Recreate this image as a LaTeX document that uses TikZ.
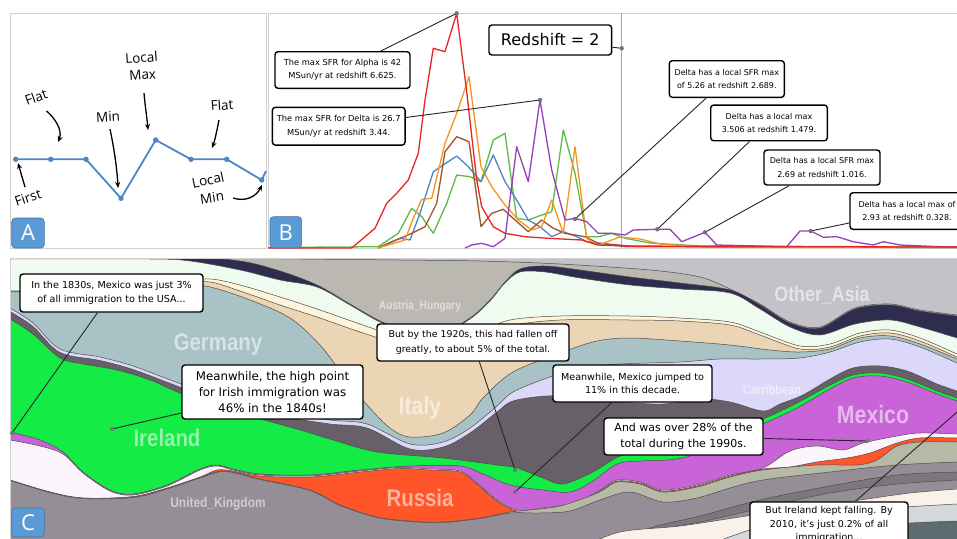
\documentclass[tikz,border=0pt]{standalone}
\usepackage{fontspec}
\setmainfont{DejaVu Sans}
\newfontfamily\handfont{Open Sans}
\newfontfamily\strfont[FakeStretch=0.85]{Liberation Sans}
\usetikzlibrary{arrows.meta}
\definecolor{lineblue}{HTML}{4A86C8}
\definecolor{lblue}{HTML}{5B9BD5}
\definecolor{cred}{HTML}{E8251F}
\definecolor{corange}{HTML}{F7931E}
\definecolor{cbrown}{HTML}{A0522D}
\definecolor{cblue}{HTML}{4F86C6}
\definecolor{cgreen}{HTML}{5DBB46}
\definecolor{cpurple}{HTML}{9440B8}
\definecolor{sOasia}{HTML}{C5C1C9}
\definecolor{sAustria}{HTML}{BBB7B1}
\definecolor{sNavy}{HTML}{2E2C4F}
\definecolor{sMint}{HTML}{EEFBEE}
\definecolor{sCream}{HTML}{FDF4D9}
\definecolor{sTan}{HTML}{EBD5B5}
\definecolor{sGerm}{HTML}{A8C2C5}
\definecolor{sCarib}{HTML}{DCD8F9}
\definecolor{sDark}{HTML}{676068}
\definecolor{sGreen}{HTML}{14EB44}
\definecolor{sPurple}{HTML}{C864D8}
\definecolor{sWhite}{HTML}{FCF4FB}
\definecolor{sRed}{HTML}{FF5528}
\definecolor{sSage}{HTML}{B5B9A6}
\definecolor{sUK}{HTML}{968E96}
\definecolor{sGray}{HTML}{7D767E}
\definecolor{sCream2}{HTML}{FAF1E8}
\definecolor{sLt}{HTML}{D3D8DB}
\definecolor{sSlate}{HTML}{5E6C71}
\newcommand\strlayer[2]{%
  \fill[#1] plot[smooth,tension=0.55] coordinates {#2} -- (965,548) -- (2,548) -- cycle;
  \draw[strline] plot[smooth,tension=0.55] coordinates {#2};}
\begin{document}
\begin{tikzpicture}[x=1pt,y=-1pt,
  panelbox/.style={draw=black!18,line width=0.9pt},
  aline/.style={draw=lineblue,line width=1.8pt,line join=round},
  handlbl/.style={font=\handfont\fontsize{13.5}{17}\selectfont,align=center,inner sep=0pt},
  harrow/.style={draw=black,line width=1.3pt,-{Stealth[length=6pt,width=5pt]}},
  letterbox/.style={fill=lblue,draw=lblue!75!black,line width=0.6pt,rounded corners=3.5pt,minimum width=32pt,minimum height=30pt,text=white,font=\handfont\fontsize{22}{22}\selectfont,inner sep=0pt},
  splot/.style={line width=1.3pt,line join=round},
  callout/.style={draw=black,line width=1.4pt,rounded corners=3pt,fill=white,align=center,inner sep=0pt},
  cline/.style={draw=black!85,line width=0.9pt},
  gdot/.style={fill=black!55},
  strline/.style={draw=black!70,line width=0.5pt},
  slbl/.style={text=white,text opacity=0.55,font=\strfont\bfseries,inner sep=0pt},
]
\useasboundingbox (0,0) rectangle (957,538);
\clip (0,0) rectangle (957,538);
\fill[white] (0,0) rectangle (957,538);

% ---------------- Panel A ----------------
\draw[panelbox] (10,13) rectangle (266,248);
\coordinate (p1) at (15.7,159.3);
\coordinate (p2) at (50.7,159.3);
\coordinate (p3) at (86,159.3);
\coordinate (p4) at (121,198.3);
\coordinate (p5) at (155.7,140);
\coordinate (p6) at (191,159.3);
\coordinate (p7) at (226.7,159.3);
\coordinate (p8) at (261.7,180);
\coordinate (p9) at (266,171);
\draw[aline] (p1) -- (p2) -- (p3) -- (p4) -- (p5) -- (p6) -- (p7) -- (p8) -- (p9);
\foreach \p in {p1,p2,p3,p4,p5,p6,p7,p8} \fill[lineblue] (\p) circle (2.7pt);

\node[handlbl,rotate=20] (lflat1) at (36,97) {Flat};
\node[handlbl,rotate=3] (lmin) at (108,117) {Min};
\node[handlbl,rotate=4] (lmax) at (142,66) {Local\\Max};
\node[handlbl,rotate=4] (lflat2) at (222,105) {Flat};
\node[handlbl,rotate=18] (lfirst) at (28,198) {First};
\node[handlbl,rotate=12] (llmin1) at (208,180) {Local};
\node[handlbl,rotate=8] (llmin2) at (212,197.5) {Min};

\coordinate (f1s) at (46.5,111);  \coordinate (f1e) at (58,142);
\coordinate (mns) at (110,129);   \coordinate (mne) at (118,188);
\coordinate (mxs) at (144,93);    \coordinate (mxe) at (148,130);
\coordinate (f2s) at (219,120);   \coordinate (f2e) at (212,148);
\coordinate (fis) at (25,187);    \coordinate (fie) at (18,163);
\coordinate (lms) at (233,198);   \coordinate (lme) at (262,185);
\draw[harrow] (f1s) .. controls (54,117) and (63,130) .. (f1e);
\draw[harrow] (mns) .. controls (114,148) and (117,168) .. (mne);
\draw[harrow] (mxs) .. controls (145,105) and (147,118) .. (mxe);
\draw[harrow] (f2s) .. controls (217,130) and (215,140) .. (f2e);
\draw[harrow] (fis) -- (fie);
\draw[harrow] (lms) .. controls (245,202) and (256,197) .. (lme);

\node[letterbox,minimum width=32.6pt,minimum height=30pt] (la) at (28,233) {A};

% ---------------- Panel B ----------------
\draw[panelbox] (268,13) rectangle (962,248);
\begin{scope}
\clip (268,13) rectangle (957,248.5);
\draw[black!35,line width=0.9pt] (621.7,13) -- (621.7,248);
\draw[splot,cgreen] plot coordinates {(268,247.5) (378,246.7) (398.3,233.3) (411.7,208.3) (421.7,216.7) (433.3,233.3) (446.7,203.3) (456.7,175) (470,176.7) (481,181.7) (493.3,140) (505,133.3) (516.7,218.3) (528.3,220) (541.7,215) (551.7,211.7) (563.3,130) (575,173.3) (586.7,236.7) (598.3,236.7) (611.7,233.3) (625,238.3) (650,243) (700,246) (960,247)};
\draw[splot,cblue] plot coordinates {(378,248) (391.7,241.7) (400,238.3) (410,240) (420,213.3) (433.3,171.7) (456.7,156) (468.3,166.7) (481,181.7) (493.3,155) (505,181.7) (516.7,200) (528.3,220) (540,226.7) (551.7,236.7) (563.3,231.7) (576.7,236.7) (586.7,241.7) (601.7,243.3) (625,246.7) (960,247.5)};
\draw[splot,cbrown] plot coordinates {(378,248) (411.7,233.3) (425,226.7) (436.7,203.3) (445,151.7) (456.7,136.7) (469,141.7) (481,226.7) (491.7,213.3) (503.3,209.3) (515,220) (528.3,231.7) (541.7,220) (553.3,228.3) (565,233.3) (585,236.7) (598.3,243.3) (630,246) (960,247.5)};
\draw[splot,corange] plot coordinates {(378,248) (405,240) (413.3,218.3) (421.7,199.3) (431.7,198.3) (445,143.3) (456.7,113.3) (469,76.7) (481,166.7) (491.7,186.7) (505,205) (518.3,220) (531.7,230) (541.7,226.7) (551.7,200) (563.3,233.3) (575,146.7) (586.7,238.3) (598.3,245) (620,237) (640,239) (660,244) (700,247) (960,247.5)};
\draw[splot,cpurple] plot coordinates {(465,248) (471.7,245) (481.7,243.3) (493.3,246.7) (505,238.3) (516.7,146.7) (528.3,181.7) (540,100) (551.7,170) (565,220) (575,218.3) (586.7,221.7) (598.3,233.3) (611.7,233.3) (625,235) (633.3,230) (657.3,229.3) (670,229.3) (681.7,241.7) (705,232.3) (716.7,245) (786.7,246.7) (800,231) (810.7,231) (823.3,237.3) (836.7,236.7) (853.3,241.7) (873.3,245) (883.3,241.7) (900,245) (940,246.7) (960,247.3)};
\draw[splot,cred] plot coordinates {(268,248) (351.7,248) (375,228.3) (386.7,203.3) (396.7,193.3) (408.3,180) (418.3,153.3) (425,100) (433.3,48.3) (445,51.7) (456.7,13.3) (466.7,91.7) (476.7,180) (481.7,206.7) (493.3,226.7) (505,233.3) (525,236.7) (548.3,238.3) (581.7,240) (598,245) (640,246.5) (960,247)};
\end{scope}

\coordinate (bdA) at (456.7,13.3);
\coordinate (bdD) at (540,100);
\coordinate (bdR) at (621.7,48.3);
\coordinate (bd1) at (575,219);
\coordinate (bd2) at (657.3,229.3);
\coordinate (bd3) at (705,232.3);
\coordinate (bd4) at (810.7,231);

\node[callout,minimum width=135pt,minimum height=36.6pt,font=\fontsize{8.3}{13.3}\selectfont] (bb1) at (342.5,70) {The max SFR for Alpha is 42\\MSun/yr at redshift 6.625.};
\node[callout,minimum width=132.7pt,minimum height=37.7pt,font=\fontsize{8.3}{13.3}\selectfont] (bb2) at (338.7,126.2) {The max SFR for Delta is 26.7\\MSun/yr at redshift 3.44.};
\node[callout,minimum width=122.7pt,minimum height=30pt,font=\fontsize{16}{18}\selectfont] (bbr) at (550.3,40) {Redshift = 2};
\node[callout,minimum width=115pt,minimum height=36.6pt,font=\fontsize{8}{13.3}\selectfont] (bd1b) at (726.8,79) {Delta has a local SFR max\\of 5.26 at redshift 2.689.};
\node[callout,minimum width=116.6pt,minimum height=35.7pt,font=\fontsize{8}{13.3}\selectfont] (bd2b) at (769,122.9) {Delta has a local max\\3.506 at redshift 1.479.};
\node[callout,minimum width=116pt,minimum height=35pt,font=\fontsize{8}{13.3}\selectfont] (bd3b) at (822,167.5) {Delta has a local SFR max\\2.69 at redshift 1.016.};
\node[callout,minimum width=114pt,minimum height=36.6pt,font=\fontsize{8}{13.3}\selectfont] (bd4b) at (907,211) {Delta has a local max of\\2.93 at redshift 0.328.};

\draw[cline] (bdA) -- (bb1);
\draw[cline] (bdD) -- (bb2);
\draw[cline] (bdR) -- (bbr);
\draw[cline] (bd1) -- (bd1b);
\draw[cline] (bd2) -- (bd2b);
\draw[cline] (bd3) -- (bd3b);
\draw[cline] (bd4) -- (bd4b);
\foreach \d in {bdA,bdD,bdR,bd1,bd2,bd3,bd4} \fill[gdot] (\d) circle (2.2pt);

\node[letterbox,minimum width=31.7pt,minimum height=31.3pt] (lb) at (285.8,232.3) {B};

% ---------------- Panel C ----------------
\begin{scope}
\clip (10,258) rectangle (957,538);
\fill[sOasia] (10,258) rectangle (957,538);
\strlayer{sAustria}{(10,258) (200,258) (300,259) (400,260) (480,261) (560,264) (650,270) (700,277) (730,289) (760,304) (790,322) (820,327) (855,308) (890,304) (920,310) (957,315)}
\strlayer{sNavy}{(10,258.5) (190,258.5) (240,261) (280,271) (317,285) (350,304) (380,321) (410,332) (440,334) (470,318) (490,300) (505,282) (520,269) (545,266) (580,270) (630,277) (680,283) (730,290) (760,305) (790,323) (820,328) (855,309) (890,305) (920,311) (957,316)}
\strlayer{sMint}{(10,259) (150,259) (190,261) (240,270) (280,280) (317,287) (350,305) (380,322) (410,333) (440,335) (470,319) (490,301) (505,283) (520,272) (545,272) (580,278) (630,285) (680,289) (730,293) (760,309) (790,327) (820,335) (855,324) (890,320) (920,327) (957,338)}
\strlayer{sCream}{(10,291) (100,289) (180,282) (210,279) (240,285) (280,297) (320,310) (360,324) (400,337) (440,342) (480,332) (510,320) (560,316) (630,316) (680,318) (730,322) (760,332) (800,346) (830,344) (860,333) (890,330) (920,338) (957,354)}
\strlayer{sTan}{(10,291.5) (100,289.5) (180,283.5) (210,282) (240,291) (280,305) (320,318) (360,332) (400,344) (440,348) (480,340) (510,326) (560,320) (630,320) (680,321) (730,325) (760,335) (800,349) (830,347) (860,336) (890,333) (920,341) (957,357)}
\strlayer{sGerm}{(10,292) (100,290) (180,285) (210,287) (250,300) (290,318) (320,345) (345,378) (367,405) (390,428) (410,437) (443,433) (470,415) (483,398) (513,372) (563,352) (597,341) (630,338) (680,341) (730,345) (770,350) (800,352) (830,349) (860,338) (890,336) (920,344) (957,359)}
\strlayer{sCarib}{(10,308) (33,323) (60,349) (100,357) (133,366) (173,381) (220,398) (280,412) (330,420) (367,424) (410,444) (443,442) (470,428) (497,406) (513,392) (547,378) (580,368) (620,364) (680,362) (720,359) (760,359) (800,358) (830,352) (860,342) (890,339) (920,347) (957,363)}
\strlayer{sDark}{(10,311.5) (33,326.5) (60,352.5) (100,360.5) (133,369.5) (173,384.5) (220,402) (280,416) (330,424) (367,428) (410,449) (443,447) (470,433) (497,412) (513,401) (547,396) (580,398) (620,402) (663,404) (700,399) (730,402) (763,411) (780,404) (803,395) (830,379) (853,368) (880,366) (907,371) (937,384) (957,391)}
\strlayer{sGreen}{(10,319) (33,334) (60,358) (83,364) (117,370) (150,380) (180,393) (233,411) (300,430) (333,440) (377,452) (443,458) (497,465) (517,468) (543,478) (563,484) (593,472) (620,456) (647,452) (667,455) (690,448) (720,435) (763,419) (797,403) (830,385) (853,375) (880,373) (907,379) (937,391) (957,398)}
\strlayer{sPurple}{(10,432) (40,440) (63,452) (83,472) (110,490) (133,494) (167,485) (200,469) (217,465) (233,469) (260,474) (310,475) (360,470) (410,466) (460,466) (483,474) (510,485) (543,490) (570,492) (593,481) (617,464) (640,461) (667,460) (690,456) (720,442) (763,424) (797,408) (830,389) (853,378) (880,376) (907,382) (937,394) (957,401)}
\strlayer{sWhite}{(10,440) (40,446) (63,454) (83,473) (110,491) (133,495) (167,486) (200,470) (217,466) (233,470) (260,475) (310,476) (360,471) (400,467.5) (430,469) (460,471) (477,483) (497,500) (517,510) (543,508) (577,502) (603,488) (617,480) (640,482) (663,490) (697,485) (730,475) (763,468) (790,451) (817,446) (843,450) (863,443) (897,436) (920,433) (957,434)}
\strlayer{sRed}{(10,480) (50,492) (83,498) (133,496.5) (167,488) (200,477) (217,470) (233,471) (260,476) (310,477) (360,472) (400,468.5) (430,470) (460,472) (477,484) (497,501) (517,511) (543,509) (577,503) (603,489) (617,481) (640,483) (663,491) (697,486) (730,476) (763,469) (790,467) (817,462) (847,458) (870,453) (897,443) (920,438) (957,438)}
\strlayer{sSage}{(10,480) (50,492) (83,498) (133,497) (167,488.5) (200,477.5) (225,471) (260,479) (310,490) (340,505) (377,517) (410,521) (443,522) (480,518) (510,512) (530,510) (560,506) (590,496) (603,490) (617,482) (640,484) (663,492) (697,487) (730,477) (763,470) (817,465) (857,465) (877,460) (897,446) (920,442) (957,442)}
\strlayer{sUK}{(10,480.5) (50,492.5) (83,498.5) (133,497.5) (167,489) (200,478) (225,471.5) (260,479.5) (310,490.5) (340,505.5) (377,517.5) (410,521.5) (443,522.5) (480,518.5) (510,513) (540,513) (570,511) (600,500) (630,492) (663,502) (697,498) (730,488) (763,480) (830,472) (897,465) (957,462)}
\strlayer{sGray}{(600,548) (650,528) (700,516) (760,500) (830,486) (897,475) (957,472)}
\strlayer{sUK}{(600,550) (660,530) (710,520) (770,506) (830,493) (897,484) (957,480)}
\strlayer{sCream2}{(580,548) (620,532) (680,526) (740,517) (800,508) (860,500) (910,493) (957,489)}
\strlayer{sLt}{(700,548) (760,527) (820,518) (880,509) (957,504)}
\strlayer{sSlate}{(730,548) (780,533) (850,527) (910,523) (957,521)}

\node[slbl,font=\strfont\bfseries\fontsize{24}{24}\selectfont] (tGer) at (218,345) {Germany};
\node[slbl,font=\strfont\bfseries\fontsize{24}{24}\selectfont] (tIre) at (167,438) {Ireland};
\node[slbl,font=\strfont\bfseries\fontsize{25}{25}\selectfont] (tIta) at (420,408) {Italy};
\node[slbl,font=\strfont\bfseries\fontsize{24}{24}\selectfont] (tRus) at (420,498) {Russia};
\node[slbl,font=\strfont\bfseries\fontsize{25}{25}\selectfont] (tMex) at (873,415) {Mexico};
\node[slbl,font=\strfont\bfseries\fontsize{21}{21}\selectfont] (tAsia) at (822,295) {Other\_Asia};
\node[slbl,font=\strfont\bfseries\fontsize{14}{14}\selectfont] (tUK) at (218,504) {United\_Kingdom};
\node[slbl,font=\strfont\bfseries\fontsize{12}{12}\selectfont] (tAH) at (420,306) {Austria\_Hungary};
\node[slbl,font=\strfont\bfseries\fontsize{13}{13}\selectfont] (tCar) at (772,390) {Carribbean};
\end{scope}
\draw[panelbox] (10,258) rectangle (962,545);

\coordinate (cd1) at (12,433);
\coordinate (cd2) at (112,429);
\coordinate (cd3) at (515,470);
\coordinate (cd4) at (515,492);
\coordinate (cd5) at (867,441);
\coordinate (cd6) at (990,383);

\node[callout,minimum width=183pt,minimum height=38pt,font=\fontsize{9.6}{13.4}\selectfont] (cb1) at (111.5,293) {In the 1830s, Mexico was just 3\%\\of all immigration to the USA...};
\node[callout,minimum width=181pt,minimum height=54pt,font=\fontsize{11.8}{16.3}\selectfont] (cb2) at (272.5,392) {Meanwhile, the high point\\for Irish immigration was\\46\% in the 1840s!};
\node[callout,minimum width=192pt,minimum height=37pt,font=\fontsize{9.4}{14.4}\selectfont] (cb3) at (473,342.5) {But by the 1920s, this had fallen off\\greatly, to about 5\% of the total.};
\node[callout,minimum width=159pt,minimum height=37pt,font=\fontsize{9.6}{13.7}\selectfont] (cb4) at (632.5,383.5) {Meanwhile, Mexico jumped to\\11\% in this decade.};
\node[callout,minimum width=159pt,minimum height=37pt,font=\fontsize{11}{16.3}\selectfont] (cb5) at (683.5,436.5) {And was over 28\% of the\\total during the 1990s.};
\node[callout,minimum width=158pt,minimum height=45pt,font=\fontsize{9.5}{13.5}\selectfont] (cb6) at (829,524.5) {But Ireland kept falling. By\\2010, it's just 0.2\% of all\\immigration...};

\draw[cline] (cd1) -- (cb1);
\draw[cline] (cd2) -- (cb2);
\draw[cline] (cd3) -- (cb3);
\draw[cline] (cd4) -- (cb4);
\draw[cline] (cd5) -- (cb5);
\draw[cline] (cd6) -- (cb6);
\foreach \d in {cd1,cd2,cd3,cd4,cd5} \fill[gdot] (\d) circle (2pt);

\node[letterbox,minimum width=32.6pt,minimum height=29pt] (lc) at (28,522.5) {C};
\end{tikzpicture}
\end{document}
